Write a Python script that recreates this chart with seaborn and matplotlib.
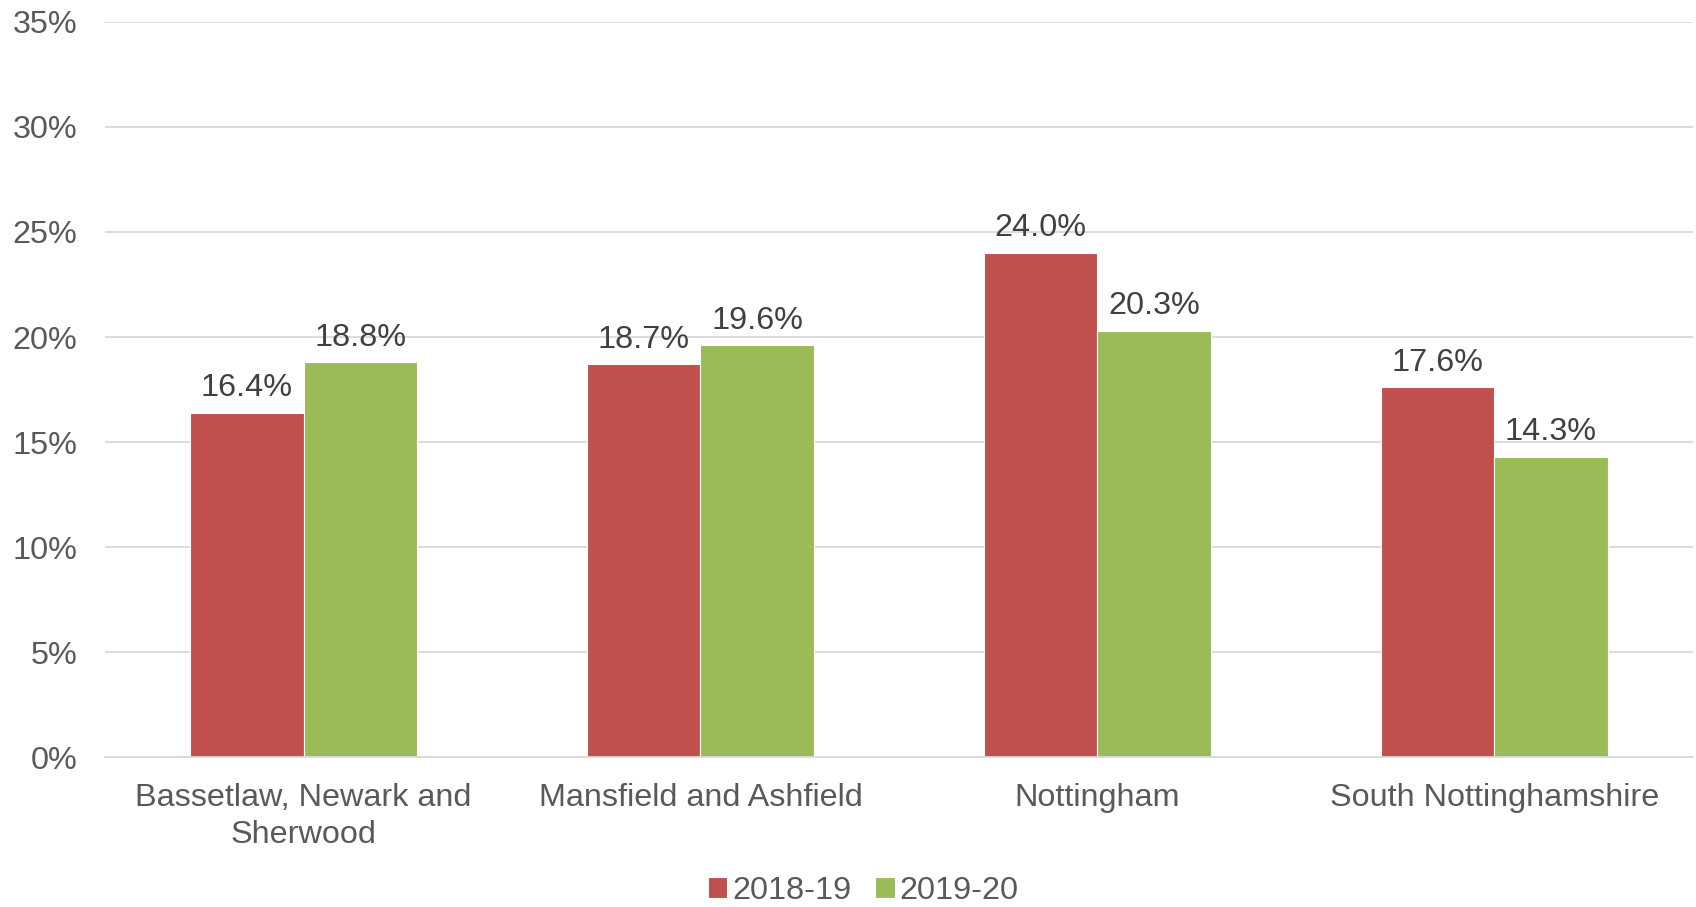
import pandas as pd
import matplotlib.pyplot as plt
import seaborn as sns
from matplotlib.ticker import PercentFormatter

# data
regions = ['Bassetlaw, Newark and\nSherwood', 'Mansfield and Ashfield',
           'Nottingham', 'South Nottinghamshire']
years = ['2018-19', '2019-20']
vals_1819 = [16.4, 18.7, 24.0, 17.6]
vals_1920 = [18.8, 19.6, 20.3, 14.3]
colors = ['#C0504D', '#9BBB59']

df = pd.DataFrame({
    'region': regions * 2,
    'year': [years[0]] * 4 + [years[1]] * 4,
    'value': vals_1819 + vals_1920,
})

sns.set_style('white')
plt.rcParams['font.family'] = ['Liberation Sans', 'DejaVu Sans']

fig = plt.figure(figsize=(16.96, 9.07), dpi=100)
ax = fig.add_axes([0.062, 0.165, 0.936, 0.811])

sns.barplot(data=df, x='region', y='value', hue='year', palette=colors,
            width=0.572, saturation=1, ax=ax, edgecolor='white', linewidth=0.8)

for cont in ax.containers:
    ax.bar_label(cont, labels=[f'{v:.1f}%' for v in cont.datavalues],
                 padding=7, fontsize=23.3, color='#404040')

ax.set_ylim(0, 35)
ax.set_xlim(-0.5, 3.5)
ax.set_yticks(range(0, 36, 5))
ax.yaxis.set_major_formatter(PercentFormatter(decimals=0))
ax.grid(axis='y', color='#D9D9D9', linewidth=1.3)
ax.set_axisbelow(True)
for s in ['top', 'right', 'left']:
    ax.spines[s].set_visible(False)
ax.spines['bottom'].set_color('#D9D9D9')
ax.spines['bottom'].set_linewidth(1.3)
ax.tick_params(axis='both', length=0, labelsize=23.3, colors='#595959')
ax.tick_params(axis='x', pad=18.5)
ax.tick_params(axis='y', pad=20)
for lab in ax.get_xticklabels():
    lab.set_linespacing(1.32)
ax.set_xlabel('')
ax.set_ylabel('')

ax.legend(loc='center', bbox_to_anchor=(0.509, 0.0175), bbox_transform=fig.transFigure,
          ncol=2, frameon=False, borderpad=0,
          fontsize=23.3, labelcolor='#595959', handlelength=0.6, handleheight=0.6,
          handletextpad=0.15, columnspacing=0.75)

fig.savefig('out.png', dpi=100)
